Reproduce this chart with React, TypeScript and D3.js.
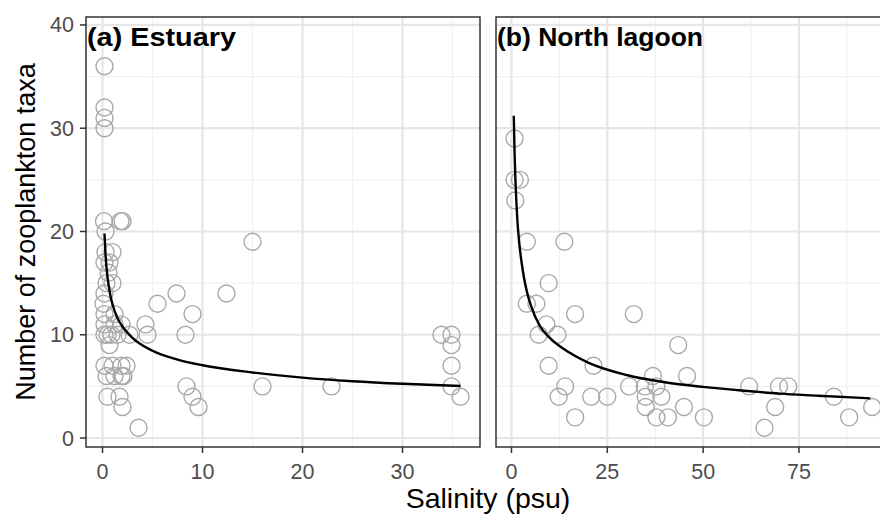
import React from "react";
import * as d3 from "d3";

// ---- Data ----
const estuarySalinity = [
  0.2, 0.2, 0.2, 0.2,
  0.15, 1.8, 2.0, 0.3, 0.3, 1.0, 0.2, 0.7, 0.6, 0.4, 1.0, 0.2, 0.1,
  0.2, 1.2, 0.2, 1.2, 1.9, 0.2, 0.5, 0.9, 1.5, 2.7, 0.7,
  0.2, 1.0, 1.9, 2.4, 2.1, 0.4, 1.2, 1.9, 0.5, 1.7, 2.0, 3.6,
  15, 7.4, 12.4, 5.5, 9.0, 4.3, 4.5, 8.3, 8.4, 9.0, 9.6, 16, 22.9,
  33.9, 34.9, 34.9, 34.9, 34.9, 35.8,
];
const estuaryTaxa = [
  36, 32, 31, 30,
  21, 21, 21, 20, 18, 18, 17, 17, 16, 15, 15, 14, 13,
  12, 12, 11, 11, 11, 10, 10, 10, 10, 10, 9,
  7, 7, 7, 7, 6, 6, 6, 6, 4, 4, 3, 1,
  19, 14, 14, 13, 12, 11, 10, 10, 5, 4, 3, 5, 5,
  10, 10, 9, 7, 5, 4,
];

const lagoonSalinity = [
  0.8, 0.8, 2.2, 1.0, 4.0, 13.8, 9.7, 4.0, 6.5, 16.6, 31.9, 9.1, 7.1, 12.0,
  43.5, 9.7, 21.4, 14.0, 12.3, 20.8, 25.0, 16.6, 30.7, 34.8, 36.9, 37.8,
  35.0, 39.1, 35.0, 37.8, 40.8, 45.0, 45.8, 50.2, 62.0, 68.8, 66.0, 69.8,
  72.2, 84.1, 88.1, 94.1,
];
const lagoonTaxa = [
  29, 25, 25, 23, 19, 19, 15, 13, 13, 12, 12, 11, 10, 10,
  9, 7, 7, 5, 4, 4, 4, 2, 5, 5, 6, 5,
  4, 4, 3, 2, 2, 3, 6, 2, 5, 3, 1, 5,
  5, 4, 2, 3,
];

// fitted curves
const estuaryFitX = [0.2, 0.3, 0.5, 0.75, 1, 1.5, 2, 3, 5, 7.5, 10, 15, 20, 25, 30, 35.8];
const estuaryFitY = [19.8, 17.8, 15.6, 14.0, 12.95, 11.6, 10.8, 9.7, 8.45, 7.6, 7.05, 6.35, 5.85, 5.5, 5.25, 5.04];
const lagoonFitX = [0.6, 0.8, 1, 1.5, 2, 3, 4, 5, 7.5, 10, 15, 20, 30, 40, 50, 60, 70, 80, 93.6];
const lagoonFitY = [31.2, 27.7, 25.3, 21.3, 19.0, 16.1, 14.2, 12.9, 10.8, 9.7, 8.3, 7.3, 6.1, 5.4, 4.95, 4.6, 4.3, 4.1, 3.84];

const yTicks = [0, 10, 20, 30, 40];
const yMinor = [5, 15, 25, 35];
const estuaryTicks = [0, 10, 20, 30];
const estuaryMinor = [5, 15, 25, 35];
const lagoonTicks = [0, 25, 50, 75];
const lagoonMinor = [12.5, 37.5, 62.5, 87.5];

const panelTitles = ["(a) Estuary", "(b) North lagoon"];
const xTitle = "Salinity (psu)";
const yTitle = "Number of zooplankton taxa";

// ---- Layout ----
const W = 880;
const H = 515;
const TOP = 17;
const BOTTOM = 447;
const FONT = "'Liberation Sans', Arial, Helvetica, sans-serif";

const y = d3.scaleLinear().domain([-0.87, 40.77]).range([BOTTOM, TOP]);

type PanelProps = {
  id: string;
  left: number;
  right: number;
  xDomain: [number, number];
  ticks: number[];
  minor: number[];
  xs: number[];
  ys: number[];
  fx: number[];
  fy: number[];
  title: string;
  titleLength?: number;
  showY: boolean;
};

function Panel(p: PanelProps) {
  const x = d3.scaleLinear().domain(p.xDomain).range([p.left, p.right]);
  const line = d3
    .line<number>()
    .x((_, i) => x(p.fx[i]))
    .y((d) => y(d))
    .curve(d3.curveMonotoneX);
  return (
    <g>
      <defs>
        <clipPath id={p.id}>
          <rect x={p.left} y={TOP} width={p.right - p.left} height={BOTTOM - TOP} />
        </clipPath>
      </defs>
      <rect x={p.left} y={TOP} width={p.right - p.left} height={BOTTOM - TOP} fill="#fff" />
      <g clipPath={`url(#${p.id})`}>
        {yMinor.map((t) => (
          <line key={"ym" + t} x1={p.left} x2={p.right} y1={y(t)} y2={y(t)} stroke="#f0f0f0" strokeWidth={1.2} />
        ))}
        {p.minor.map((t) => (
          <line key={"xm" + t} x1={x(t)} x2={x(t)} y1={TOP} y2={BOTTOM} stroke="#f0f0f0" strokeWidth={1.2} />
        ))}
        {yTicks.map((t) => (
          <line key={"yM" + t} x1={p.left} x2={p.right} y1={y(t)} y2={y(t)} stroke="#e6e6e6" strokeWidth={2.2} />
        ))}
        {p.ticks.map((t) => (
          <line key={"xM" + t} x1={x(t)} x2={x(t)} y1={TOP} y2={BOTTOM} stroke="#e6e6e6" strokeWidth={2.2} />
        ))}
        {p.xs.map((v, i) => (
          <circle key={"pt" + i} cx={x(v)} cy={y(p.ys[i])} r={8.5} fill="none" stroke="#a9a9a9" strokeWidth={1.4} />
        ))}
        <path d={line(p.fy) || ""} fill="none" stroke="#000" strokeWidth={2.4} />
        <text
          x={p.left + 1}
          y={46}
          fontFamily={FONT}
          fontWeight="bold"
          fontSize={26.5}
          fill="#000"
          textLength={p.titleLength}
          lengthAdjust={p.titleLength ? "spacingAndGlyphs" : undefined}
        >
          {p.title}
        </text>
      </g>
      <rect x={p.left} y={TOP} width={p.right - p.left} height={BOTTOM - TOP} fill="none" stroke="#333" strokeWidth={1.5} />
      {p.ticks.map((t) => (
        <g key={"xt" + t}>
          <line x1={x(t)} x2={x(t)} y1={BOTTOM} y2={BOTTOM + 6} stroke="#333" strokeWidth={1.5} />
          <text x={x(t)} y={478.5} textAnchor="middle" fontFamily={FONT} fontSize={21.5} fill="#4d4d4d">
            {t}
          </text>
        </g>
      ))}
      {p.showY &&
        yTicks.map((t) => (
          <g key={"yt" + t}>
            <line x1={p.left - 6} x2={p.left} y1={y(t)} y2={y(t)} stroke="#333" strokeWidth={1.5} />
            <text x={p.left - 12} y={y(t) + 7.5} textAnchor="end" fontFamily={FONT} fontSize={21.5} fill="#4d4d4d">
              {t}
            </text>
          </g>
        ))}
    </g>
  );
}

export default function App() {
  return (
    <svg width={W} height={H} style={{ position: "absolute", left: 0, top: 0, background: "#fff" }}>
      <rect x={0} y={0} width={W} height={H} fill="#fff" />
      <Panel
        id="clipA"
        left={86}
        right={480}
        xDomain={[-1.65, 37.75]}
        ticks={estuaryTicks}
        minor={estuaryMinor}
        xs={estuarySalinity}
        ys={estuaryTaxa}
        fx={estuaryFitX}
        fy={estuaryFitY}
        title={panelTitles[0]}
        titleLength={149}
        showY={true}
      />
      <Panel
        id="clipB"
        left={496}
        right={890}
        xDomain={[-4.04, 98.75]}
        ticks={lagoonTicks}
        minor={lagoonMinor}
        xs={lagoonSalinity}
        ys={lagoonTaxa}
        fx={lagoonFitX}
        fy={lagoonFitY}
        title={panelTitles[1]}
        showY={false}
      />
      <text x={488} y={508} textAnchor="middle" fontFamily={FONT} fontSize={28.5} fill="#000">
        {xTitle}
      </text>
      <text
        transform={`translate(35, ${(TOP + BOTTOM) / 2}) rotate(-90)`}
        textAnchor="middle"
        fontFamily={FONT}
        fontSize={27}
        fill="#000"
      >
        {yTitle}
      </text>
    </svg>
  );
}
